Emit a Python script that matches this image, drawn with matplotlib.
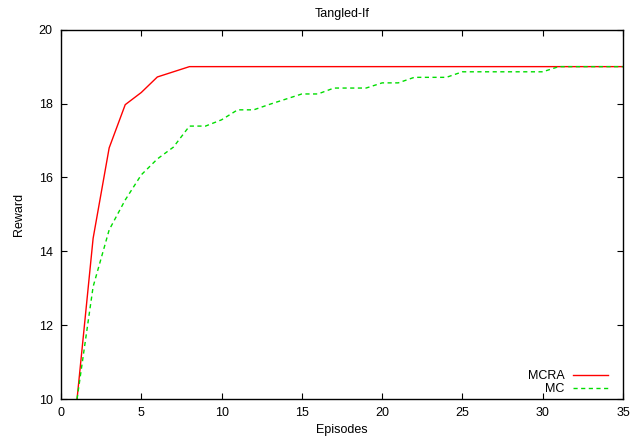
import matplotlib
matplotlib.use("Agg")
import matplotlib.pyplot as plt

plt.rcParams['font.family'] = ['Liberation Sans', 'DejaVu Sans']

episodes = list(range(1, 36))
mcra = [10.0, 14.35, 16.8, 17.97, 18.3, 18.72, 18.86, 19.0] + [19.0] * 27
mc = [10.0, 13.04, 14.58, 15.39, 16.07, 16.5, 16.82, 17.39, 17.39, 17.56,
      17.83, 17.83, 17.98, 18.12, 18.26, 18.26, 18.42, 18.42, 18.42, 18.56,
      18.56, 18.71, 18.71, 18.71, 18.86, 18.86, 18.86, 18.86, 18.86, 18.86,
      19.0, 19.0, 19.0, 19.0, 19.0]
xticks = [0, 5, 10, 15, 20, 25, 30, 35]
yticks = [10, 12, 14, 16, 18, 20]

fig = plt.figure(figsize=(6.35, 4.38), dpi=100)
ax = fig.add_axes([61/635, 1 - 399/438, (623 - 61)/635, (399 - 29.7)/438])

ax.plot(episodes, mcra, color='#ff0000', lw=1.0, label='MCRA')
ax.plot(episodes, mc, color='#00dd00', lw=1.0, dashes=(3, 2.5), label='MC')

ax.set_xlim(0, 35)
ax.set_ylim(10, 20)
ax.set_xticks(xticks)
ax.set_yticks(yticks)
ax.tick_params(direction='in', length=4.5, width=0.8, top=True, right=True,
               labelsize=9, pad=6)
for s in ax.spines.values():
    s.set_linewidth(1.0)

ax.set_title('Tangled-If', fontsize=9, pad=9)
ax.set_xlabel('Episodes', fontsize=9, labelpad=3)
ax.set_ylabel('Reward', fontsize=9, labelpad=10)

ax.legend(loc='lower right', frameon=False, markerfirst=False, fontsize=9,
          handlelength=2.8, handletextpad=0.65, labelspacing=0.05,
          borderaxespad=0.4, bbox_to_anchor=(1 - 5/562, -6/369))

fig.savefig('out.png', dpi=100)
